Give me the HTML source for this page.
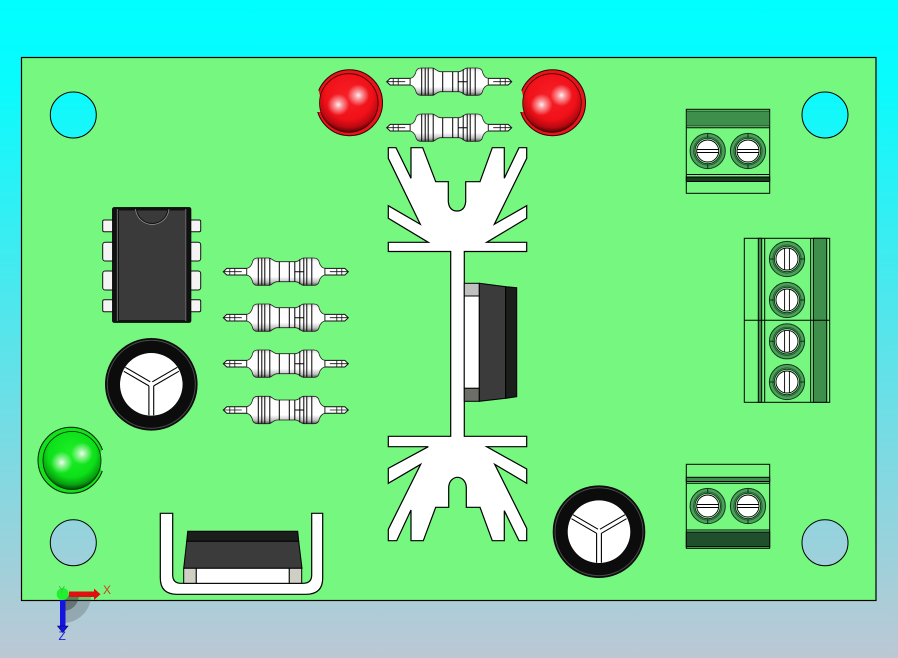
<!DOCTYPE html>
<html><head><meta charset="utf-8"><style>html,body{margin:0;padding:0;background:#00ffff}svg{display:block}</style></head><body>
<svg width="898" height="658" viewBox="0 0 898 658" xmlns="http://www.w3.org/2000/svg">
<defs>
<linearGradient id="bg" gradientUnits="userSpaceOnUse" x1="0" y1="0" x2="0" y2="658"><stop offset="0" stop-color="#00ffff"/><stop offset=".12" stop-color="#08fbfd"/><stop offset="1" stop-color="#bcc8d4"/></linearGradient>
<radialGradient id="red" cx="0.5" cy="0.38" r="0.66"><stop offset="0" stop-color="#f82028"/><stop offset="0.62" stop-color="#f01018"/><stop offset="0.82" stop-color="#b80810"/><stop offset="1" stop-color="#180000"/></radialGradient>
<radialGradient id="grn" cx="0.5" cy="0.38" r="0.66"><stop offset="0" stop-color="#20f028"/><stop offset="0.62" stop-color="#0ce018"/><stop offset="0.82" stop-color="#08a010"/><stop offset="1" stop-color="#001800"/></radialGradient>
<radialGradient id="hl"><stop offset="0" stop-color="#fff" stop-opacity=".95"/><stop offset=".3" stop-color="#fff" stop-opacity=".6"/><stop offset="1" stop-color="#fff" stop-opacity="0"/></radialGradient>
<linearGradient id="rb" x1="0" y1="0" x2="0" y2="1"><stop offset="0" stop-color="#d8d8d8"/><stop offset=".14" stop-color="#fbfbfb"/><stop offset=".68" stop-color="#fff"/><stop offset=".88" stop-color="#c0c0c0"/><stop offset="1" stop-color="#555"/></linearGradient>
<g id="res">
<path d="M-62.5 0 L-59 -3.3 H-39 V3.3 H-59 Z M62.5 0 L59 -3.3 H39 V3.3 H59 Z" fill="#fff" stroke="#111" stroke-width="1"/>
<path d="M-62 0 H-44 M44 0 H62 M-56 -3 V3 M-51 -3 V3 M51 -3 V3 M56 -3 V3" stroke="#111" stroke-width=".8"/>
<path d="M-39 -3.3 C-36 -4 -34.5 -6 -33.5 -9 C-33 -12 -31 -13.7 -28 -13.7 H-17 C-14 -13.7 -13 -10.5 -9 -10 H10 C14 -10.5 15 -13.7 18 -13.7 H28 C31 -13.7 33 -12 33.5 -9 C34.5 -6 36 -4 39 -3.3 V3.3 C36 4 34.5 6 33.5 9 C33 12 31 13.7 28 13.7 H18 C15 13.7 14 10.5 10 10 H-9 C-13 10.5 -14 13.7 -17 13.7 H-28 C-31 13.7 -33 12 -33.5 9 C-34.5 6 -36 4 -39 3.3 Z" fill="url(#rb)" stroke="#222" stroke-width=".8"/>
<path d="M-27.5 -13.5 V13.5 M-24 -13.5 V13.5 M-21 -13.5 V13.5 M-16 -13.5 V13.5 M-6.5 -10 V10 M3.5 -10 V10 M9 -10 V10 M14 -12.5 V12.5 M18 -13.5 V13.5 M21 -13.5 V13.5 M26 -13.5 V13.5 M9 0 H18" stroke="#000" stroke-width="1" fill="none"/>
</g>
<g id="scrH">
<circle r="17.6" fill="#4f9f5c" stroke="#0f3a1a" stroke-width="1"/>
<circle r="14.2" fill="#3a8c48" stroke="#1a5a28" stroke-width=".7"/>
<circle r="12.6" fill="#b8f4c0" stroke="#0a2a10" stroke-width=".8"/>
<circle r="11" fill="#fff" stroke="#000" stroke-width=".9"/>
<path d="M-10.8 -1.5 H10.8 M-10.8 1.5 H10.8" stroke="#000" stroke-width=".9"/>
<path d="M0 -17.5 V-13 M0 13 V17.5" stroke="#0c3014" stroke-width="1"/>
</g>
<g id="scrV">
<circle r="17.6" fill="#4f9f5c" stroke="#0f3a1a" stroke-width="1"/>
<circle r="14.2" fill="#3a8c48" stroke="#1a5a28" stroke-width=".7"/>
<circle r="12.6" fill="#b8f4c0" stroke="#0a2a10" stroke-width=".8"/>
<circle r="11" fill="#fff" stroke="#000" stroke-width=".9"/>
<path d="M-2.4 -10.8 V10.8 M2.4 -10.8 V10.8" stroke="#000" stroke-width=".9"/>
<path d="M-17.5 0 H-13 M13 0 H17.5" stroke="#0c3014" stroke-width="1"/>
</g>
<g id="cap">
<circle r="46.3" fill="#0c0c0c"/>
<circle r="44" fill="none" stroke="#4a4a4a" stroke-width="1"/>
<circle r="31.3" fill="#fff"/>
<path d="M-2.4 1.6 V31 M2.4 1.6 V31 M-2.4 1.6 L-27.5 -13 M-1 -2.5 L-26 -17 M2.4 1.6 L27.5 -13 M1 -2.5 L26 -17" stroke="#000" stroke-width="1.1" fill="none"/>
</g>
</defs>
<rect width="898" height="658" fill="url(#bg)"/>
<rect x="21.5" y="57.5" width="854.5" height="543" fill="#76f77f" stroke="#000" stroke-width="1.2"/>
<g fill="url(#bg)" stroke="#000" stroke-width="1">
<circle cx="73.3" cy="115" r="23"/><circle cx="825" cy="115" r="23"/><circle cx="73.3" cy="542.7" r="23"/><circle cx="825" cy="542.7" r="23"/>
</g>

<!-- LEDs -->
<g>
<circle cx="349.5" cy="102.7" r="33" fill="#e8141c" stroke="#300" stroke-width="1"/>
<path d="M315 90 L318.5 90 L320.5 98 L320.5 112 L317 112 L315 114 Z" fill="#76f77f"/>
<circle cx="348.8" cy="103" r="29.3" fill="url(#red)" stroke="#400" stroke-width=".8"/>
<circle cx="338.3" cy="104.7" r="11" fill="url(#hl)"/><circle cx="358.3" cy="95.3" r="11" fill="url(#hl)"/>
<circle cx="552.5" cy="102.7" r="33" fill="#e8141c" stroke="#300" stroke-width="1"/>
<path d="M518 90 L521.5 90 L523.5 98 L523.5 112 L520 112 L518 114 Z" fill="#76f77f"/>
<circle cx="552" cy="103" r="29.3" fill="url(#red)" stroke="#400" stroke-width=".8"/>
<circle cx="541.5" cy="104.7" r="11" fill="url(#hl)"/><circle cx="561.5" cy="95.3" r="11" fill="url(#hl)"/>
<circle cx="71" cy="460.3" r="33" fill="#14e01c" stroke="#020" stroke-width="1"/>
<path d="M106 450 L102 450 L100 454 L100 468 L102 471 L106 471 Z" fill="#76f77f"/>
<circle cx="72" cy="460.5" r="29" fill="url(#grn)" stroke="#020" stroke-width=".8"/>
<circle cx="61.7" cy="462.5" r="11" fill="url(#hl)"/><circle cx="82" cy="453.5" r="11" fill="url(#hl)"/>
</g>

<!-- Resistors -->
<use href="#res" x="449.2" y="81.7"/>
<use href="#res" x="449.2" y="127.7"/>
<use href="#res" x="285.8" y="271.7"/>
<use href="#res" x="285.8" y="317.7"/>
<use href="#res" x="285.8" y="363.7"/>
<use href="#res" x="285.8" y="410"/>

<!-- Heatsink -->
<path fill="#fff" stroke="#000" stroke-width="1.2" d="M388.3 147.7 H396 L411 178.3 V147.7 H422.7 L435.7 181.7 H448.3 V201.7 C449 209 453 211 457 211 C461 211 465 209 465.7 201.7 V181.7 H480 L492.3 147.7 H504.3 V178.3 L519 147.7 H526.7 V158.3 L494.3 224.3 L526.7 205.7 V218.3 L486.7 242.3 H526.7 V251.5 H464.3 V436.3 H526.7 V446.7 H486.7 L526.7 469 V483.3 L494.7 464.3 L526.7 528.3 V540.7 H519 L504.3 510.7 V540.7 H492.3 L480 507.3 H466.3 V486.7 C465.5 480 461 477.3 457.5 477.3 C454 477.3 449.5 480 448.7 486.7 V507.3 H435.7 L423.3 540.7 H411 V510 L396.7 540.7 H388.3 V529.3 L420.7 464.3 L388.3 483.3 V468.3 L428.3 446.7 H388.3 V436.3 H450.7 V251.5 H388.3 V242.3 H428.3 L388.3 218.3 V205.7 L420.3 224.3 L388.3 158.3 Z"/>

<!-- Right TO220 -->
<g stroke="#000" stroke-width="1">
<rect x="464.3" y="283.3" width="15" height="12.7" fill="#c0c0c0"/>
<rect x="464.3" y="296" width="15" height="92.3" fill="#fff"/>
<rect x="464.3" y="388.3" width="15" height="13" fill="#6e6e68"/>
<path d="M479.3 283.3 L505.7 286.7 V398.3 L479.3 401.3 Z" fill="#3b3b3b"/>
<path d="M505.7 286.7 L516.7 287.7 V396.7 L505.7 398.3 Z" fill="#1c1e1c"/>
</g>

<!-- Bottom heatsink + TO220 -->
<path fill="#fff" stroke="#000" stroke-width="1.2" d="M160.3 513.3 H172.7 V575 Q172.7 583.3 181 583.3 H303 Q311.7 583.3 311.7 575 V513.3 H322.7 V578 Q322.7 594.3 306 594.3 H177 Q160.3 594.3 160.3 578 Z"/>
<g stroke="#000" stroke-width="1">
<path d="M187.7 531.3 H297.7 L298.7 541.3 H186.7 Z" fill="#1c1e1c"/>
<path d="M186.7 541.3 H298.7 L302 568.3 H183.7 Z" fill="#3b3b3b"/>
<rect x="183.7" y="568.3" width="12.6" height="15" fill="#cfcfc4"/>
<rect x="196.3" y="568.3" width="93" height="15" fill="#fff"/>
<rect x="289.3" y="568.3" width="12.4" height="15" fill="#cfcfc4"/>
</g>

<!-- IC -->
<g fill="#f4f4f4" stroke="#111" stroke-width="1">
<rect x="102.7" y="220" width="12" height="11.7" rx="1.5"/><rect x="102.7" y="242.3" width="12" height="18.7" rx="2.5"/><rect x="102.7" y="271" width="12" height="19" rx="2.5"/><rect x="102.7" y="299.7" width="12" height="12" rx="1.5"/>
<rect x="188.7" y="220" width="12" height="11.7" rx="1.5"/><rect x="188.7" y="242.3" width="12" height="18.7" rx="2.5"/><rect x="188.7" y="271" width="12" height="19" rx="2.5"/><rect x="188.7" y="299.7" width="12" height="12" rx="1.5"/>
</g>
<rect x="112.7" y="207.7" width="78" height="114.6" rx="1.5" fill="#3a3a3a" stroke="#000" stroke-width="1.2"/>
<rect x="113" y="208" width="6" height="114" fill="#111"/><rect x="185" y="208" width="5.6" height="114" fill="#111"/>
<rect x="113" y="208" width="77.5" height="2.5" fill="#111"/><rect x="113" y="320" width="77.5" height="2.5" fill="#111"/>
<path d="M117.3 209 V321 M185.8 209 V321" stroke="#8a8a8a" stroke-width=".8"/>
<path d="M136.5 209 A15.8 15.8 0 0 0 168 209" fill="none" stroke="#111" stroke-width="1"/>
<path d="M135.5 209 A16.8 16.8 0 0 0 169 209" fill="none" stroke="#999" stroke-width=".7"/>

<!-- Capacitors -->
<use href="#cap" x="151.3" y="384.3"/>
<use href="#cap" x="599" y="531.7"/>

<!-- Terminal 1 -->
<g stroke="#000" stroke-width="1">
<rect x="686.3" y="109.3" width="83.4" height="84" fill="#76f77f"/>
<rect x="686.3" y="111" width="83.4" height="15" fill="#3f8f4c" stroke-width=".6"/>
<path d="M686.3 127.7 H769.7 M686.3 174.5 H769.7" fill="none"/>
<rect x="686.3" y="177" width="83.4" height="4.5" fill="#153f1c"/>
</g>
<use href="#scrH" x="707.7" y="151"/><use href="#scrH" x="748" y="151"/>

<!-- Terminal 2 -->
<g stroke="#000" stroke-width="1">
<rect x="744.3" y="238.3" width="85.4" height="164" fill="#76f77f"/>
<rect x="758.3" y="238.3" width="3.4" height="164" fill="#3f8f4c"/>
<rect x="813.3" y="238.3" width="13.4" height="164" fill="#3f8f4c"/>
<path d="M764.7 238.3 V402.3 M810.7 238.3 V402.3 M744.3 320.3 H829.7" fill="none"/>
</g>
<use href="#scrV" x="787" y="259"/><use href="#scrV" x="787" y="300"/><use href="#scrV" x="787" y="341.3"/><use href="#scrV" x="787" y="382"/>

<!-- Terminal 3 -->
<g stroke="#000" stroke-width="1">
<rect x="686.3" y="464.3" width="83.4" height="84" fill="#76f77f"/>
<rect x="686.3" y="477.3" width="83.4" height="4.2" fill="#3f8f4c"/>
<path d="M686.3 483.3 H769.7 M686.3 530 H769.7" fill="none"/>
<rect x="686.3" y="532" width="83.4" height="14.7" fill="#1f4f2c"/>
</g>
<use href="#scrH" x="707.7" y="506"/><use href="#scrH" x="748" y="506"/>

<!-- Triad -->
<path d="M63 595 H91 A28 28 0 0 1 63 623 Z" fill="#555" fill-opacity=".3"/>
<path d="M63 595 H79 A16 16 0 0 1 63 611 Z" fill="#333" fill-opacity=".45"/>
<rect x="69" y="591.5" width="25" height="5.5" fill="#e01010"/>
<path d="M94 588.5 L100.5 594.2 L94 600 Z" fill="#e01010"/>
<rect x="60" y="600" width="5.5" height="26" fill="#1414e0"/>
<path d="M57.5 626 H68 L62.7 632.5 Z" fill="#1414e0" stroke="#000060" stroke-width=".6"/>
<circle cx="62.7" cy="594" r="6" fill="#20f030"/>
<text x="103" y="594" font-family="Liberation Sans, sans-serif" font-size="12" fill="#d04020">X</text>
<text x="58.5" y="640" font-family="Liberation Sans, sans-serif" font-size="12" fill="#2020d0">Z</text>
<text x="58.5" y="593" font-family="Liberation Sans, sans-serif" font-size="10" fill="#40c040">Y</text>
</svg>
</body></html>
